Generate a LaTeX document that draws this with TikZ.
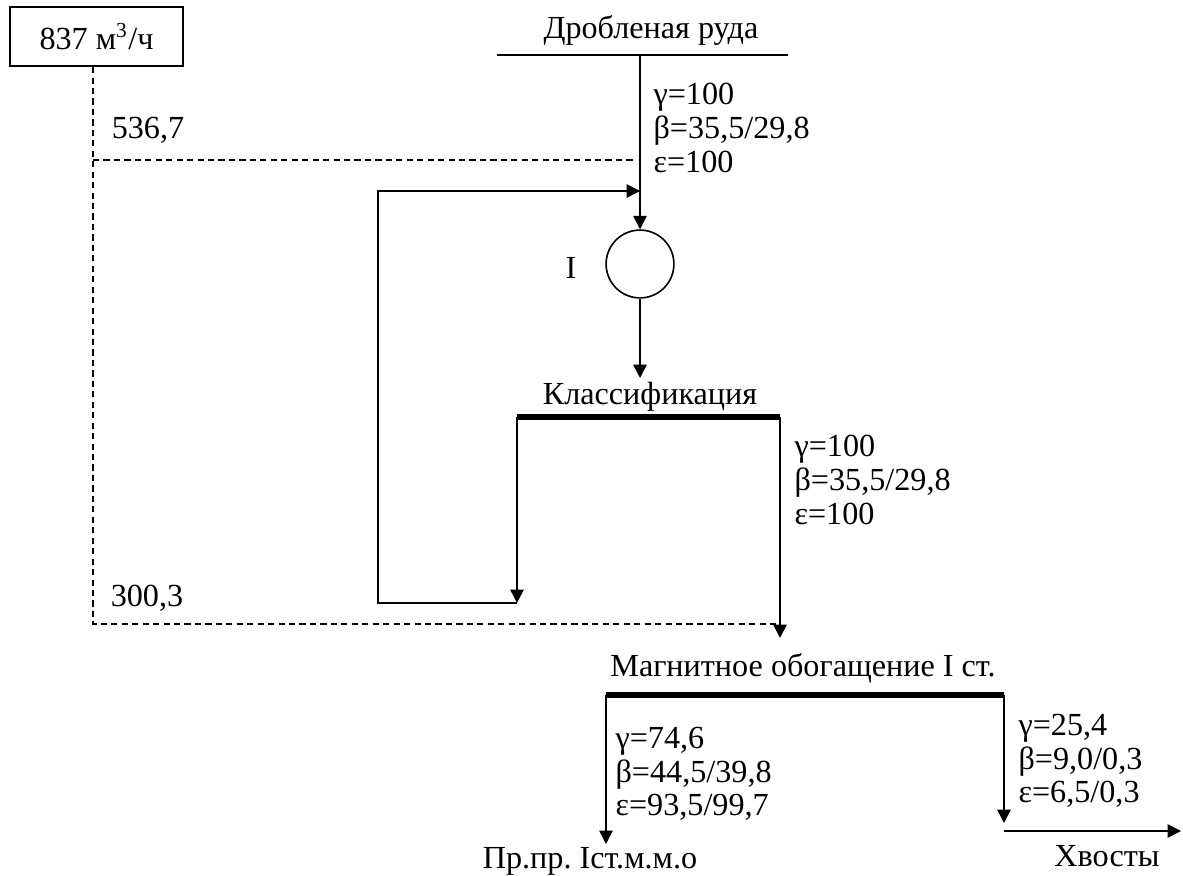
\documentclass[tikz,border=0pt]{standalone}
\usepackage{fontspec}
\setmainfont{Liberation Serif}
\usepackage{tikz}
\usetikzlibrary{arrows.meta}

\begin{document}
\begin{tikzpicture}[
		x=0.0131cm, y=-0.0131cm,
		font=\fontsize{12}{12.6}\selectfont,
		box/.style={draw, line width=0.8pt, minimum width=64.5pt, minimum height=22pt, inner sep=0pt},
		mill/.style={draw, circle, line width=0.6pt, minimum size=25.3pt, inner sep=0pt},
		flow/.style={-{Triangle[length=5pt, width=5pt]}, line width=0.6pt},
		line/.style={line width=0.6pt},
		screen/.style={line width=1.9pt},
		dashline/.style={dash pattern=on 2.3pt off 1.6pt, line width=0.5pt},
		values/.style={align=left, anchor=west, inner sep=0pt}
		]
		\useasboundingbox (0,0) rectangle (1183,876);
		
		% Nodes
		\node[box] (rate) at (96.5,36.5) {837 м\textsuperscript{3}/ч};
		\node[mill] (mill1) at (640,264) {};
		\node (millname) at (571,268) {I};
		
		\coordinate (feedL) at (497,55);
		\coordinate (feedR) at (788,55);
		\coordinate (feed) at (640,55);
		\coordinate (join) at (640,191);
		\coordinate (clsIn) at (640,378);
		\coordinate (clsL) at (517,417);
		\coordinate (clsR) at (780,417);
		\coordinate (sands) at (517,603);
		\coordinate (recBot) at (378,603);
		\coordinate (recTop) at (378,191);
		\coordinate (magIn) at (780,638);
		\coordinate (magL) at (606,695);
		\coordinate (magR) at (1004,695);
		\coordinate (conc) at (606,844);
		\coordinate (tailDown) at (1004,823);
		\coordinate (tailA) at (1004,831);
		\coordinate (tailB) at (1181,831);
		\coordinate (water1) at (93,160);
		\coordinate (water1e) at (635,160);
		\coordinate (water2) at (93,624);
		\coordinate (water2e) at (780,624);
		
		% Lines
		\draw[line] (feedL) -- (feedR);
		\draw[screen] (clsL) -- (clsR);
		\draw[screen] (magL) -- (magR);
		\draw[dashline] (rate.south -| water1) -- (water2) -- (water2e);
		\draw[dashline] (water1) -- (water1e);
		
		% Arrows
		\draw[flow] (feed) -- (mill1.north);
		\draw[flow] (mill1.south) -- (clsIn);
		\draw[flow] (clsL) -- (sands);
		\draw[flow] (sands) -- (recBot) -- (recTop) -- (join);
		\draw[flow] (clsR) -- (magIn);
		\draw[flow] (magL) -- (conc);
		\draw[flow] (magR) -- (tailDown);
		\draw[flow] (tailA) -- (tailB);
		
		% Labels
		\node (feedname) at (651,30) {Дробленая руда};
		\node (clsname) at (650,397) {Классификация};
		\node (magname) at (803,668) {Магнитное обогащение I ст.};
		\node (concname) at (590,861) {Пр.пр.\ Iст.м.м.о};
		\node (tailname) at (1107,856) {Хвосты};
		\node (w1) at (148,130) {536,7};
		\node (w2) at (147,598) {300,3};
		\node[values] (v1) at (653,128) {γ=100\\β=35,5/29,8\\ε=100};
		\node[values] (v2) at (794,480) {γ=100\\β=35,5/29,8\\ε=100};
		\node[values] (v3) at (615,774) {γ=74,6\\β=44,5/39,8\\ε=93,5/99,7};
		\node[values] (v4) at (1018,761) {γ=25,4\\β=9,0/0,3\\ε=6,5/0,3};
		
	\end{tikzpicture}
\end{document}
